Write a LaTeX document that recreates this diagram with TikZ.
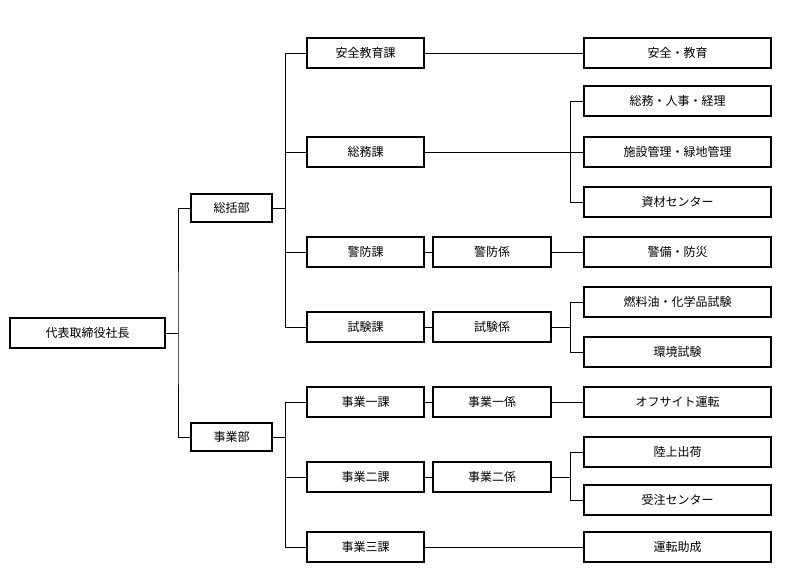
\documentclass[tikz,border=0pt]{standalone}
\usepackage{fontspec}
\setmainfont{Noto Sans CJK JP}
\begin{document}
\begin{tikzpicture}[x=1pt,y=-1pt,
  b/.style={draw,line width=1.2pt,minimum height=30pt,inner sep=0pt,font=\fontsize{12}{14}\selectfont},
  l/.style={line width=0.6pt}]
\useasboundingbox (0,0) rectangle (790,583);
\node[b,minimum width=155pt] (root) at (87.5,333) {代表取締役社長};
\node[b,minimum width=81pt,minimum height=28pt] (s) at (231.5,208) {総括部};
\node[b,minimum width=81pt,minimum height=28pt] (j) at (231.5,437) {事業部};
\foreach \n/\t/\y in {a/安全教育課/53,b/総務課/152,c/警防課/252,d/試験課/327,e/事業一課/402,f/事業二課/477,g/事業三課/547}
  \node[b,minimum width=117pt] (\n) at (365.5,\y) {\t};
\foreach \n/\t/\y in {c2/警防係/252,d2/試験係/327,e2/事業一係/402,f2/事業二係/477}
  \node[b,minimum width=118pt] (\n) at (492,\y) {\t};
\foreach \n/\t/\y in {r1/安全・教育/53,r2/総務・人事・経理/101,r3/施設管理・緑地管理/152,r4/資材センター/202,r5/警備・防災/252,r6/燃料油・化学品試験/302,r7/環境試験/352,r8/オフサイト運転/402,r9/陸上出荷/452,r10/受注センター/500,r11/運転助成/547}
  \node[b,minimum width=187pt] (\n) at (677.5,\y) {\t};
\draw[l] (root.east) -- (178,333);
\draw[l] (s.west) -| (178,333) |- (j.west);
\foreach \n in {a,b,c,d} \draw[l] (s.east) -- (285,208) |- (\n.west);
\foreach \n in {e,f,g} \draw[l] (j.east) -- (285,437) |- (\n.west);
\draw[l] (a.east) -- (r1.west);
\draw[l] (c.east) -- (c2.west); \draw[l] (c2.east) -- (r5.west);
\draw[l] (d.east) -- (d2.west);
\draw[l] (e.east) -- (e2.west); \draw[l] (e2.east) -- (r8.west);
\draw[l] (f.east) -- (f2.west);
\draw[l] (g.east) -- (r11.west);
\draw[l] (b.east) -- (570,152);
\foreach \n in {r2,r3,r4} \draw[l] (570,152) |- (\n.west);
\draw[l] (d2.east) -- (570,327);
\foreach \n in {r6,r7} \draw[l] (570,327) |- (\n.west);
\draw[l] (f2.east) -- (570,477);
\foreach \n in {r9,r10} \draw[l] (570,477) |- (\n.west);
\end{tikzpicture}
\end{document}
